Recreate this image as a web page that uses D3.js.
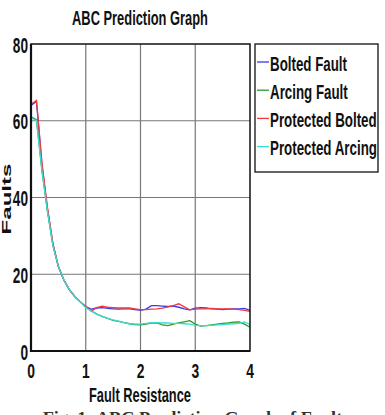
<!DOCTYPE html>
<html>
<head>
<meta charset="utf-8">
<script src="https://cdn.jsdelivr.net/npm/d3@7"></script>
<style>
  body { margin: 0; background: #fff; }
  svg { display: block; }
  text { font-family: "Liberation Sans", Arial, sans-serif; font-weight: bold; fill: #111; }
</style>
</head>
<body>
<svg id="chart" width="385" height="415"></svg>
<script>
// fault resistance samples
const resistance = [0.0, 0.1, 0.2, 0.3, 0.4, 0.5, 0.6, 0.7, 0.8, 0.9,
  1.0, 1.1, 1.2, 1.3, 1.4, 1.5, 1.6, 1.7, 1.8, 1.9,
  2.0, 2.1, 2.2, 2.3, 2.4, 2.5, 2.6, 2.7, 2.8, 2.9,
  3.0, 3.1, 3.2, 3.3, 3.4, 3.5, 3.6, 3.7, 3.8, 3.9, 4.0]

const boltedFault = [64.0, 65.0, 48.5, 37.0, 28.0, 22.0, 18.5, 16.0, 14.2, 12.8,
  11.6, 10.9, 11.2, 11.3, 11.1, 11.0, 10.9, 11.0, 11.0, 10.8,
  10.6, 10.9, 11.8, 11.8, 11.7, 11.6, 11.7, 11.4, 11.0, 10.7,
  11.2, 11.3, 11.2, 11.0, 10.9, 10.8, 10.9, 11.0, 11.0, 11.1, 10.6]

const arcingFault = [61.0, 60.3, 47.0, 36.5, 27.5, 22.0, 18.5, 16.0, 14.2, 12.8,
  11.4, 10.5, 9.6, 9.0, 8.5, 8.0, 7.7, 7.4, 7.1, 6.9,
  6.8, 7.0, 7.3, 7.3, 6.8, 6.6, 7.0, 7.3, 7.6, 7.9,
  7.0, 6.5, 6.6, 6.8, 7.0, 7.2, 7.3, 7.5, 7.6, 7.0, 6.2]

const protectedBolted = [64.3, 65.3, 49.0, 37.5, 28.0, 22.0, 18.5, 16.0, 14.2, 12.8,
  11.6, 10.4, 11.3, 11.7, 11.4, 11.3, 11.2, 11.2, 11.2, 11.0,
  10.8, 10.8, 10.9, 11.0, 11.2, 11.5, 11.8, 12.3, 11.5, 10.7,
  10.9, 11.0, 11.0, 11.1, 11.0, 11.0, 11.0, 10.9, 10.8, 10.6, 10.3]

const protectedArcing = [60.8, 60.0, 47.0, 36.5, 27.5, 22.0, 18.5, 16.0, 14.2, 12.8,
  11.3, 10.4, 9.6, 9.0, 8.5, 8.1, 7.8, 7.4, 7.1, 7.0,
  7.0, 7.2, 7.4, 7.4, 7.3, 7.3, 7.2, 7.2, 7.1, 7.0,
  6.7, 6.6, 6.6, 6.7, 6.8, 6.9, 7.0, 7.1, 7.2, 7.6, 6.9]

const seriesNames = ["Bolted Fault", "Arcing Fault", "Protected Bolted", "Protected Arcing"]
const seriesValues = [boltedFault, arcingFault, protectedBolted, protectedArcing]
const seriesColors = ["#3a3af0", "#2a9a2a", "#f03a3a", "#3adcd4"]

const xTicks = [0, 1, 2, 3, 4]
const yTicks = [0, 20, 40, 60, 80]

const svg = d3.select("#chart")

const plotLeft = 31, plotRight = 250, plotTop = 44, plotBottom = 351

const x = d3.scaleLinear().domain([0, 4]).range([plotLeft, plotRight])
const y = d3.scaleLinear().domain([0, 80]).range([plotBottom, plotTop])

// squeeze a text sideways so it fills the given width (the original font is condensed)
const squeeze = function(sel, place, width) {
  sel.each(function() {
    const w = this.getComputedTextLength()
    d3.select(this).attr("transform", `${place} scale(${width / w},1)`)
  })
}

// grid
svg.append("g")
  .selectAll("line")
  .data(xTicks.slice(1, -1))
  .join("line")
  .attr("x1", d => x(d)).attr("x2", d => x(d))
  .attr("y1", plotTop).attr("y2", plotBottom)
  .attr("stroke", "#777").attr("stroke-width", 1.2)

svg.append("g")
  .selectAll("line")
  .data(yTicks.slice(1, -1))
  .join("line")
  .attr("x1", plotLeft).attr("x2", plotRight)
  .attr("y1", d => y(d)).attr("y2", d => y(d))
  .attr("stroke", "#777").attr("stroke-width", 1.2)

// series
const line = d3.line()
  .x((d, i) => x(resistance[i]))
  .y(d => y(d))

svg.append("g")
  .selectAll("path")
  .data(seriesValues)
  .join("path")
  .attr("d", line)
  .attr("fill", "none")
  .attr("stroke", (d, i) => seriesColors[i])
  .attr("stroke-width", 1.3)

// frame
svg.append("rect")
  .attr("x", plotLeft).attr("y", plotTop)
  .attr("width", plotRight - plotLeft).attr("height", plotBottom - plotTop)
  .attr("fill", "none").attr("stroke", "#111").attr("stroke-width", 1.5)
svg.append("line")
  .attr("x1", plotLeft).attr("x2", plotLeft).attr("y1", plotTop).attr("y2", plotBottom + 1)
  .attr("stroke", "#111").attr("stroke-width", 2.2)
svg.append("line")
  .attr("x1", plotLeft - 1).attr("x2", plotRight).attr("y1", plotBottom).attr("y2", plotBottom)
  .attr("stroke", "#111").attr("stroke-width", 2.2)

// tick labels
svg.append("g")
  .selectAll("text")
  .data(xTicks)
  .join("text")
  .attr("transform", d => `translate(${x(d)},378) scale(0.66,1)`)
  .attr("text-anchor", "middle")
  .style("font-size", "21px")
  .text(d => d)

svg.append("g")
  .selectAll("text")
  .data(yTicks)
  .join("text")
  .attr("transform", d => `translate(28,${y(d) + 8.5}) scale(0.62,1)`)
  .attr("text-anchor", "end")
  .style("font-size", "22px")
  .text(d => d)

// title and axis labels
svg.append("text")
  .attr("text-anchor", "middle")
  .style("font-size", "21px")
  .text("ABC Prediction Graph")
  .call(squeeze, "translate(140,25)", 136)

svg.append("text")
  .attr("text-anchor", "middle")
  .style("font-size", "21px")
  .text("Fault Resistance")
  .call(squeeze, "translate(140,402)", 102)

svg.append("text")
  .attr("text-anchor", "middle")
  .style("font-size", "13px")
  .text("Faults")
  .call(squeeze, "translate(11,199) rotate(-90)", 71)

// legend
const legend = svg.append("g")
legend.append("rect")
  .attr("x", 255).attr("y", 44)
  .attr("width", 123).attr("height", 128)
  .attr("fill", "#fff").attr("stroke", "#111").attr("stroke-width", 1.3)

const item = legend.selectAll("g")
  .data(seriesNames)
  .join("g")
  .attr("transform", (d, i) => `translate(257,${62 + i * 28.2})`)

item.append("line")
  .attr("x1", 0).attr("x2", 12)
  .attr("stroke", (d, i) => seriesColors[i])
  .attr("stroke-width", 1.3)

const legendText = item.append("text")
  .style("font-size", "21px")
  .text(d => d)
const widest = d3.max(legendText.nodes(), n => n.getComputedTextLength())
legendText.attr("transform", `translate(13,8.5) scale(${107 / widest},1)`)

// caption, cut off by the page edge
svg.append("text")
  .attr("text-anchor", "middle")
  .style("font-family", "'Liberation Serif', serif")
  .style("font-size", "17px")
  .style("fill", "#333")
  .text("Fig. 1: ABC Prediction Graph of Faults")
  .call(squeeze, "translate(196,423)", 307)
</script>
</body>
</html>
